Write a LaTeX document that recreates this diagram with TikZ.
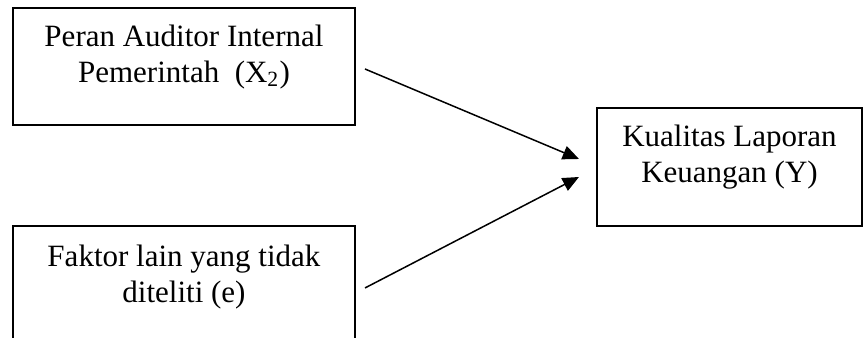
\documentclass[tikz,border=0pt]{standalone}
\usepackage{fontspec}
\setmainfont{Liberation Serif}
\usepackage{tikz}
\usetikzlibrary{positioning,calc,arrows.meta}

\begin{document}
\begin{tikzpicture}[
    box/.style={rectangle,draw,line width=0.8pt,minimum width=4.807cm,minimum height=1.645cm,inner sep=0pt},
    txt/.style={anchor=north,inner sep=0pt,align=center,font=\fontsize{12.4}{14.5}\selectfont},
    arr/.style={-{Triangle[length=6.5pt,width=5.6pt]},line width=0.6pt}]
\clip (0,0) rectangle (12.187,4.751);
% boxes
\node[box] (x2) at (2.586,3.816) {};
\node[box,minimum height=1.743cm] (e) at (2.586,0.703) {};
\node[box,minimum width=3.725cm,minimum height=1.659cm] (y) at (10.254,2.404) {};
% texts
\node[txt] (x2txt) at ($(x2.north)+(0,-0.24)$) {Peran Auditor Internal\\Pemerintah~ (X\textsubscript{2})};
\node[txt] (etxt) at ($(e.north)+(0,-0.27)$) {Faktor lain yang tidak\\diteliti (e)};
\node[txt] (ytxt) at ($(y.north)+(0,-0.24)$) {Kualitas Laporan\\Keuangan (Y)};
% arrows
\coordinate (x2out) at ($(x2.east)+(0.127,-0.035)$);
\coordinate (eout) at ($(e.east)+(0.127,0)$);
\coordinate (yin1) at ($(y.west)+(-0.239,0.112)$);
\coordinate (yin2) at ($(y.west)+(-0.239,-0.141)$);
\draw[arr] (x2out) -- (yin1);
\draw[arr] (eout) -- (yin2);
\end{tikzpicture}
\end{document}
